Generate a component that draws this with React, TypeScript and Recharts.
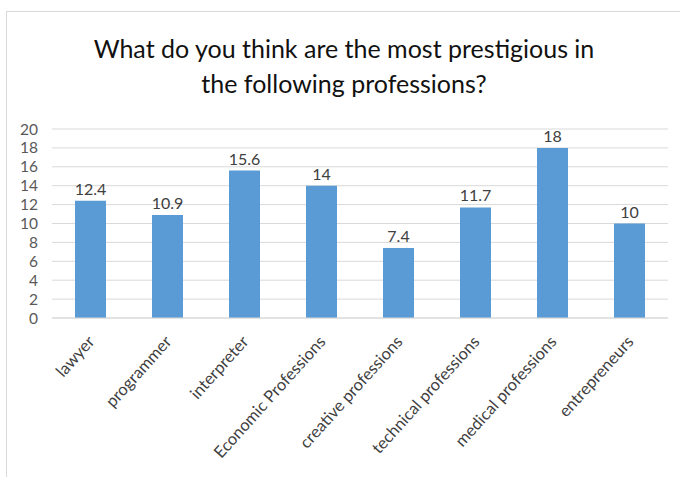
import { BarChart, Bar, XAxis, YAxis, CartesianGrid, LabelList } from "recharts"

const professions = [
  "lawyer",
  "programmer",
  "interpreter",
  "Economic Professions",
  "creative professions",
  "technical professions",
  "medical professions",
  "entrepreneurs",
]
const shares = [12.4, 10.9, 15.6, 14, 7.4, 11.7, 18, 10]
const yTicks = [0, 2, 4, 6, 8, 10, 12, 14, 16, 18, 20]

const data = professions.map((name, i) => ({ name, value: shares[i] }))

const font = "Lato, 'Open Sans', sans-serif"

function SlantTick(props: any) {
  const { x, y, payload } = props
  return (
    <g transform={`translate(${x - 1},${y + 11})`}>
      <text
        x={0}
        y={0}
        dy={8}
        textAnchor="end"
        transform="rotate(-48)"
        fill="#404040"
        fontSize={16.5}
        fontFamily={font}
      >
        {payload.value}
      </text>
    </g>
  )
}

export default function App() {
  return (
    <div
      style={{
        position: "absolute",
        left: 0,
        top: 0,
        width: 680,
        height: 477,
        overflow: "hidden",
        background: "#fff",
        fontFamily: font,
      }}
    >
      <div
        style={{
          position: "absolute",
          left: 6,
          top: 11,
          width: 720,
          height: 520,
          border: "1px solid #d9d9d9",
        }}
      />
      <div
        style={{
          position: "absolute",
          left: 0,
          top: 31,
          width: 688,
          textAlign: "center",
          fontSize: 25,
          lineHeight: "35px",
          color: "#111",
        }}
      >
        What do you think are the most prestigious in
        <br />
        the following professions?
      </div>
      <div style={{ position: "absolute", left: 0, top: 0 }}>
        <BarChart
          width={680}
          height={477}
          data={data}
          margin={{ top: 129, right: 12, bottom: 9, left: 0 }}
        >
          <CartesianGrid vertical={false} stroke="#d9d9d9" />
          <XAxis
            dataKey="name"
            interval={0}
            height={150}
            axisLine={{ stroke: "#d9d9d9" }}
            tickLine={false}
            tick={<SlantTick />}
          />
          <YAxis
            width={52}
            domain={[0, 20]}
            ticks={yTicks}
            interval={0}
            axisLine={false}
            tickLine={false}
            tickMargin={8}
            tick={{ fill: "#595959", fontSize: 15.5, fontFamily: font }}
          />
          <Bar dataKey="value" fill="#5b9bd5" barSize={31} isAnimationActive={false}>
            <LabelList
              dataKey="value"
              position="top"
              offset={6}
              fill="#404040"
              fontSize={16}
              fontFamily={font}
            />
          </Bar>
        </BarChart>
      </div>
    </div>
  )
}
